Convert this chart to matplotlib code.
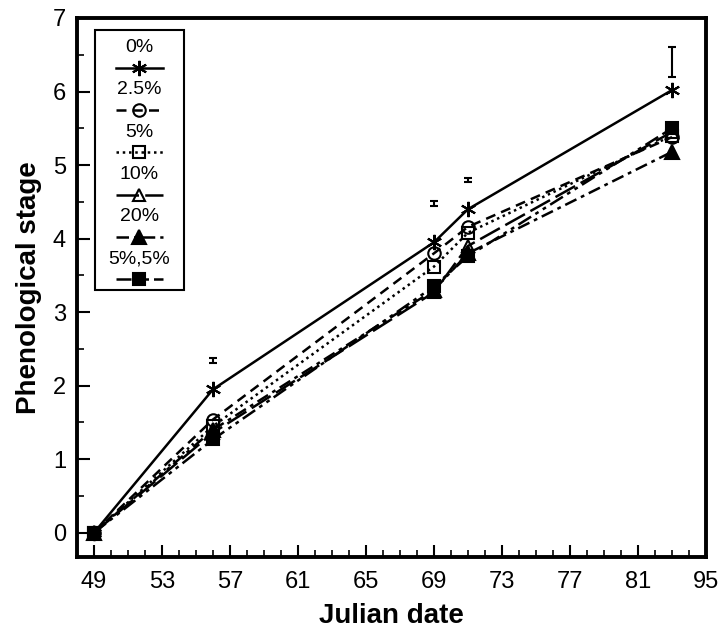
import matplotlib
matplotlib.use("Agg")
import matplotlib.pyplot as plt
from matplotlib.patches import Rectangle

plt.rcParams['font.family'] = ['Liberation Sans', 'DejaVu Sans']

# Julian dates sampled
days = [49, 56, 69, 71, 83]

# phenological stage per treatment
stage_0 = [0, 1.95, 3.95, 4.40, 6.02]
stage_25 = [0, 1.54, 3.80, 4.16, 5.38]
stage_5 = [0, 1.45, 3.62, 4.08, 5.40]
stage_10 = [0, 1.36, 3.27, 3.90, 5.45]
stage_20 = [0, 1.40, 3.30, 3.80, 5.18]
stage_55 = [0, 1.27, 3.35, 3.76, 5.50]

labels = ['0%', '2.5%', '5%', '10%', '20%', '5%,5%']

# LSD bars drawn above the points
lsd_x = [56, 69, 71, 83]
lsd_y = [2.34, 4.48, 4.80, 6.40]
lsd_err = [0.03, 0.03, 0.03, 0.20]

xticks = [49, 53, 57, 61, 65, 69, 73, 77, 81, 85]
xticklabels = ['49', '53', '57', '61', '65', '69', '73', '77', '81', '95']

styles = [
    dict(ls='-', marker=(6, 2, 0), mfc='none', ms=11),
    dict(ls=(0, (4, 2.5)), marker='o', mfc='none', ms=9),
    dict(ls=(0, (1, 1.5)), marker='s', mfc='none', ms=8),
    dict(ls=(0, (9, 2.5)), marker='^', mfc='none', ms=9),
    dict(ls=(0, (5, 2, 1.5, 2)), marker='^', mfc='black', ms=10),
    dict(ls=(0, (6, 2, 1.5, 2, 1.5, 2)), marker='s', mfc='black', ms=9),
]
series = [stage_0, stage_25, stage_5, stage_10, stage_20, stage_55]

fig = plt.figure(figsize=(7.23, 6.33), dpi=100)
ax = fig.add_axes([0.1065, 0.12, 0.87, 0.8516])

for vals, st in zip(series, styles):
    ax.plot(days, vals, color='black', lw=1.8, mec='black', mew=1.5, **st)

ax.errorbar(lsd_x, lsd_y, yerr=lsd_err, fmt='none', ecolor='black',
            elinewidth=1.5, capsize=3, capthick=1.5)

ax.set_xlim(48, 85)
ax.set_ylim(-0.33, 7)
ax.set_xticks(xticks)
ax.set_xticklabels(xticklabels)
ax.set_xticks(range(48, 86), minor=True)
ax.set_yticks(range(0, 8))
ax.set_yticks([i + 0.5 for i in range(7)], minor=True)
ax.tick_params(which='major', direction='in', length=9, width=1.5,
               labelsize=17)
ax.tick_params(axis='x', which='major', pad=10)
ax.tick_params(axis='y', which='major', pad=8)
ax.tick_params(which='minor', direction='in', length=5, width=1.2)
for sp in ax.spines.values():
    sp.set_linewidth(2.8)

ax.set_xlabel('Julian date', fontsize=20, fontweight='bold', labelpad=7)
ax.set_ylabel('Phenological stage', fontsize=20, fontweight='bold', labelpad=8)

# legend: label above each line sample, inside a box
ax.add_patch(Rectangle((0.028, 0.495), 0.142, 0.483, transform=ax.transAxes,
                       fill=False, lw=1.5, ec='black', zorder=5))
row_h = 0.0785
for i, (lab, st) in enumerate(zip(labels, styles)):
    ytxt = 0.945 - i * row_h
    yln = ytxt - 0.037
    ax.text(0.099, ytxt, lab, transform=ax.transAxes, ha='center', va='center',
            fontsize=14, zorder=6)
    ax.plot([0.062, 0.099, 0.136], [yln, yln, yln], transform=ax.transAxes,
            color='black', lw=1.8, mec='black', mew=1.5, markevery=[1],
            clip_on=False, zorder=6, **st)

fig.savefig('out.png', dpi=100)
